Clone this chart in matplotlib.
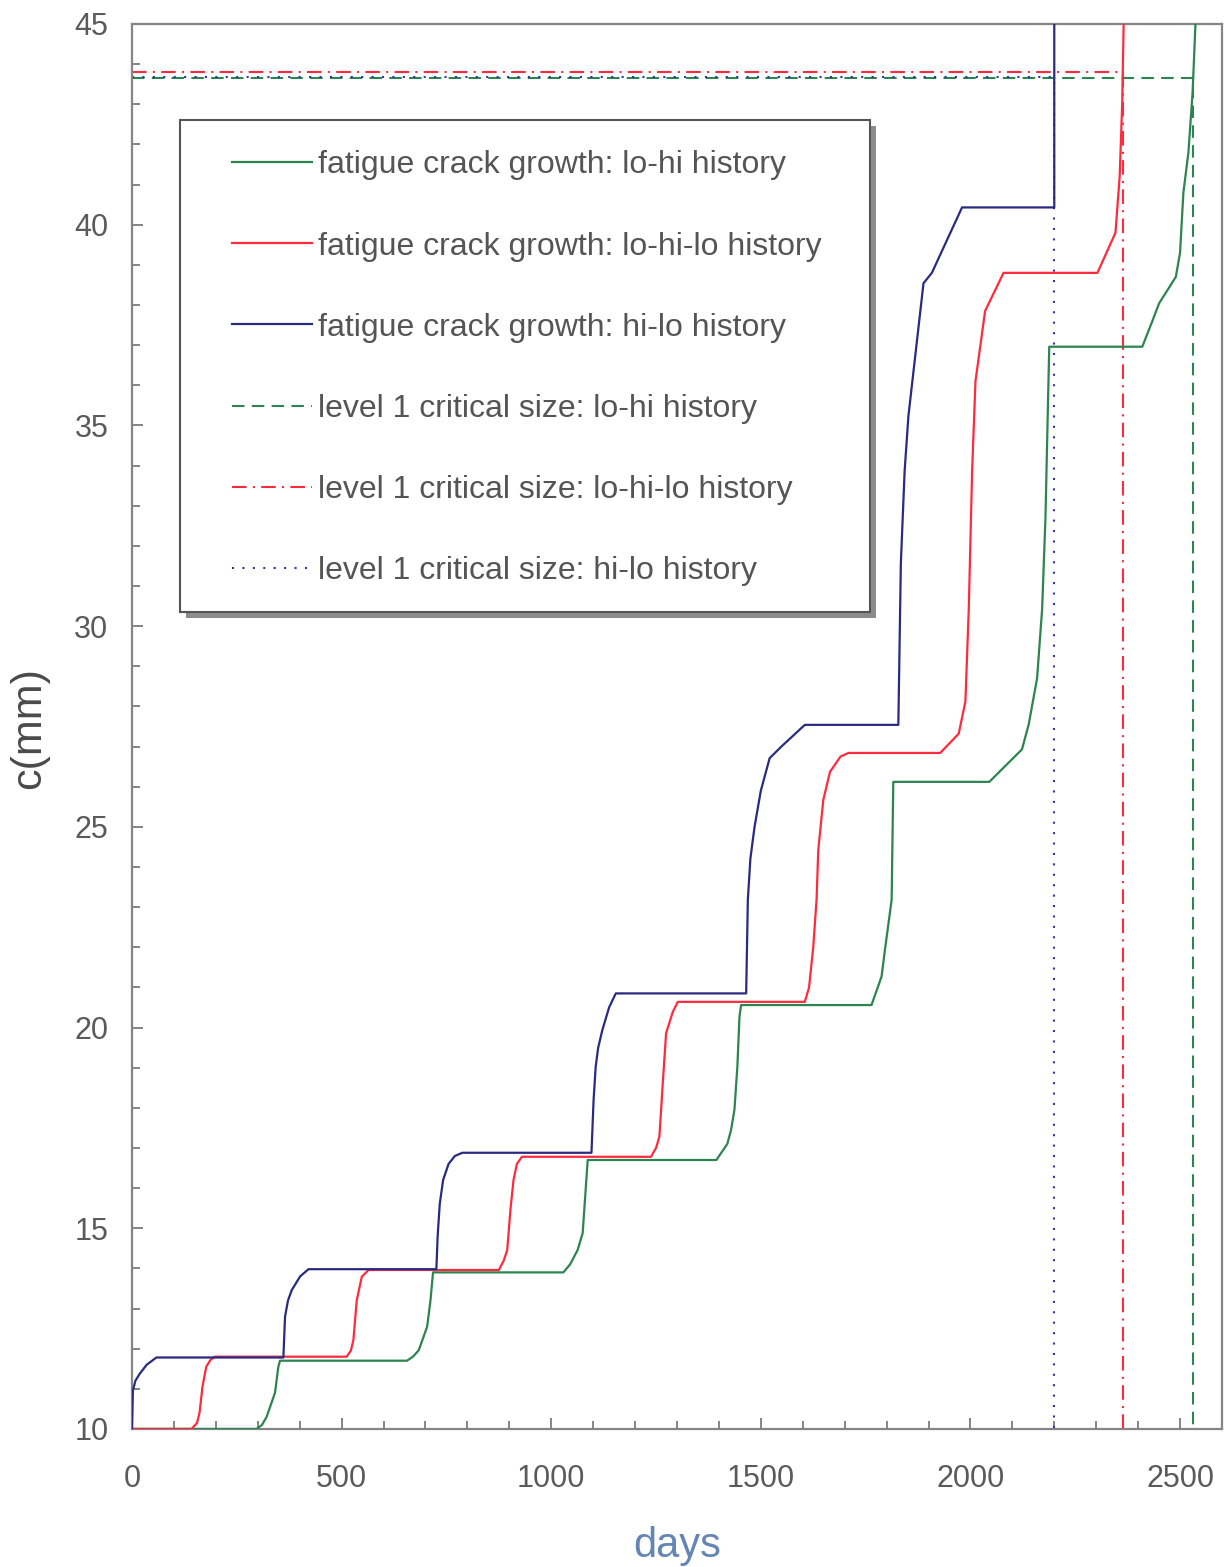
import matplotlib
matplotlib.use("Agg")
import matplotlib.pyplot as plt
from matplotlib.patches import Rectangle
from matplotlib.ticker import MultipleLocator

plt.rcParams['font.family'] = ['Liberation Sans', 'DejaVu Sans']

# Crack half-length c (mm) versus time (days) for three load histories
lohi_days = [0, 297, 310, 321, 341, 349, 353, 656, 670, 684, 704, 712, 718,
             1029, 1045, 1063, 1075, 1087, 1394, 1420, 1429, 1437, 1444, 1449, 1453,
             1764, 1788, 1796, 1812, 1816, 2045, 2123, 2139, 2159, 2171, 2179, 2185,
             2188, 2410, 2434, 2450, 2490, 2500, 2508, 2520, 2530, 2538]
lohi_c = [10, 10, 10.1, 10.3, 10.9, 11.55, 11.7, 11.7, 11.8, 11.96, 12.55, 13.21, 13.9,
          13.9, 14.1, 14.46, 14.88, 16.7, 16.7, 17.1, 17.45, 17.95, 19.02, 20.27, 20.56,
          20.56, 21.27, 21.93, 23.18, 26.12, 26.12, 26.93, 27.55, 28.7, 30.42, 32.7, 35.56,
          36.96, 36.96, 37.6, 38.04, 38.7, 39.3, 40.8, 41.8, 43.3, 45.3]

lohilo_days = [0, 142, 155, 161, 168, 177, 187, 197, 512, 522, 528, 536, 548, 564,
               875, 887, 895, 903, 910, 918, 930, 1238, 1250, 1258, 1266, 1274, 1290, 1302,
               1605, 1615, 1625, 1633, 1637, 1649, 1665, 1690, 1709, 1928, 1972, 1988, 1996,
               2004, 2012, 2035, 2079, 2303, 2346, 2356, 2362, 2366]
lohilo_c = [10, 10, 10.15, 10.4, 11.05, 11.55, 11.72, 11.8, 11.8, 11.95, 12.21, 13.2, 13.79, 13.96,
            13.96, 14.2, 14.46, 15.5, 16.2, 16.6, 16.78, 16.78, 17.0, 17.28, 18.6, 19.86, 20.39, 20.64,
            20.64, 21.0, 22.0, 23.2, 24.42, 25.67, 26.37, 26.75, 26.84, 26.84, 27.32, 28.12, 30.42,
            33.86, 36.1, 37.85, 38.8, 38.8, 39.8, 41.2, 43.0, 45.3]

hilo_days = [0, 2, 8, 18, 35, 58, 361, 365, 372, 381, 401, 421, 726, 729, 734, 742, 755,
             770, 788, 1096, 1101, 1106, 1112, 1122, 1138, 1154, 1465, 1469, 1475, 1485, 1500,
             1521, 1549, 1605, 1828, 1834, 1843, 1852, 1868, 1888, 1908, 1980, 2200, 2200]
hilo_c = [10, 10.95, 11.2, 11.37, 11.6, 11.78, 11.78, 12.8, 13.2, 13.46, 13.8, 13.98, 13.98,
          14.8, 15.6, 16.2, 16.6, 16.8, 16.88, 16.88, 18.19, 19.02, 19.5, 19.94, 20.5, 20.85,
          20.85, 23.18, 24.2, 25.0, 25.9, 26.71, 27.0, 27.54, 27.54, 31.56, 33.86, 35.23, 36.7,
          38.54, 38.8, 40.43, 40.43, 45.5]

# Level 1 critical crack size and the day it is reached
crit_day = {'lo-hi': 2530, 'lo-hi-lo': 2364, 'hi-lo': 2199}
crit_c = {'lo-hi': 43.65, 'lo-hi-lo': 43.80, 'hi-lo': 43.67}

x_ticks = [0, 500, 1000, 1500, 2000, 2500]
y_ticks = [10, 15, 20, 25, 30, 35, 40, 45]

GREEN = '#2c8450'
RED = '#ff2a3c'
BLUE = '#2a2a82'

fig = plt.figure(figsize=(12.26, 15.67), dpi=100)
ax = fig.add_axes([0.1077, 0.0881, 0.889, 0.8966])

l1, = ax.plot(lohi_days, lohi_c, color=GREEN, lw=1.6, zorder=3,
              label='fatigue crack growth: lo-hi history')
l2, = ax.plot(lohilo_days, lohilo_c, color=RED, lw=1.6, zorder=3,
              label='fatigue crack growth: lo-hi-lo history')
l3, = ax.plot(hilo_days, hilo_c, color=BLUE, lw=1.6, zorder=3,
              label='fatigue crack growth: hi-lo history')

y0 = y_ticks[0]
styles = {'lo-hi': (GREEN, (0, (6, 3.5))),
          'lo-hi-lo': (RED, (0, (7, 3, 1, 3))),
          'hi-lo': ('#3434a8', (0, (1, 4)))}
crit_lines = []
for key in ['lo-hi', 'lo-hi-lo', 'hi-lo']:
    col, ls = styles[key]
    d, c = crit_day[key], crit_c[key]
    ln, = ax.plot([0, d, d], [c, c, y0], color=col, ls=ls, lw=1.5, zorder=2,
                  label=f'level 1 critical size: {key} history')
    crit_lines.append(ln)

ax.set_xlim(0, 2600)
ax.set_ylim(10, 45)
ax.set_xticks(x_ticks)
ax.set_yticks(y_ticks)
ax.xaxis.set_minor_locator(MultipleLocator(100))
ax.yaxis.set_minor_locator(MultipleLocator(1))
ax.tick_params(which='both', direction='in', color='#707070', width=1.2,
               labelcolor='#5a5a5a', labelsize=22)
ax.tick_params(which='major', length=8)
ax.tick_params(which='minor', length=6)
ax.tick_params(axis='x', pad=25)
ax.tick_params(axis='y', pad=17)
for sp in ax.spines.values():
    sp.set_color('#858585')
    sp.set_linewidth(1.6)

ax.set_xlabel('days', fontsize=30, color='#6585b5')
ax.set_ylabel('c(mm)', fontsize=31, color='#4a4a4a')
ax.xaxis.set_label_coords(0.5, -0.069)
ax.yaxis.set_label_coords(-0.076, 0.499)

# Legend box with a drop shadow
bx0, bx1, by0, by1 = 0.044, 0.677, 0.5815, 0.9317
ax.add_patch(Rectangle((bx0 + 0.0055, by0 - 0.0043), bx1 - bx0, by1 - by0,
                       transform=ax.transAxes, facecolor='#8c8c8c', edgecolor='none',
                       zorder=4, clip_on=False))
ax.add_patch(Rectangle((bx0, by0), bx1 - bx0, by1 - by0, transform=ax.transAxes,
                       facecolor='white', edgecolor='#555555', lw=1.5, zorder=4.5,
                       clip_on=False))

leg = ax.legend(handles=[l1, l2, l3] + crit_lines, loc='upper left',
                bbox_to_anchor=(0.0917, 0.910), borderaxespad=0, borderpad=0,
                frameon=False, fontsize=23, labelspacing=1.6, handlelength=2.5,
                handletextpad=0.2, labelcolor='#555555')
leg.set_zorder(5)

fig.savefig('out.png', dpi=100)
